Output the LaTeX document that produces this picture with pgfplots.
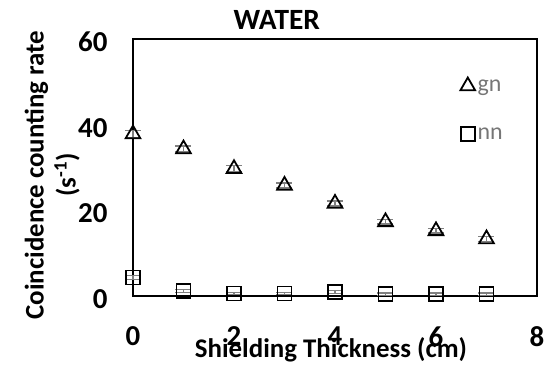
\documentclass[border=0pt]{standalone}
\usepackage{fontspec}
\setmainfont{Carlito}
\usepackage{pgfplots}
\pgfplotsset{compat=1.18}

\definecolor{errgray}{RGB}{128,128,128}
\definecolor{leggray}{RGB}{118,118,118}

\begin{document}
\begin{tikzpicture}
\path[use as bounding box] (-133bp,-69bp) rectangle (421bp,296bp);
\begin{axis}[
  scale only axis,
  width=404bp, height=257bp,
  xmin=0, xmax=8, ymin=0, ymax=60,
  xtick={0,2,4,6,8}, ytick={0,20,40,60},
  major tick length=0pt,
  axis line style={line width=1.5bp},
  /pgf/number format/assume math mode=true,
  ticklabel style={font=\fontsize{29}{31}\selectfont\bfseries},
  yticklabel style={xshift=-22bp, yshift=-3bp},
  xticklabel style={yshift=-27bp},
  title={WATER},
  title style={font=\fontsize{29.5}{31}\selectfont\bfseries,
    at={(axis description cs:0.356,1.012)}, anchor=base},
  xlabel={Shielding Thickness (cm)},
  xlabel style={font=\fontsize{27}{29}\selectfont\bfseries,
    at={(axis description cs:0.49,-0.21)}, anchor=center},
  ylabel={Coincidence counting rate\\(s\textsuperscript{-1})},
  ylabel style={font=\fontsize{27}{32}\selectfont\bfseries, align=center,
    at={(axis description cs:-0.2,0.47)}, anchor=center, rotate=0},
  clip=false,
  legend style={at={(rel axis cs:0.81,0.853)}, anchor=north west,
    draw=none, fill=none, font=\fontsize{24}{26}\selectfont,
    text=leggray, row sep=30bp, inner sep=0pt, nodes={inner sep=2.5bp}},
  legend cell align=left,
  error bars/y dir=both, error bars/y explicit,
  error bars/error bar style={errgray, line width=1.2bp},
  error bars/error mark options={errgray, line width=1.2bp, mark size=8bp, rotate=90},
]
\addplot[only marks, mark=triangle, mark size=8.5bp, line width=1.8bp, black]
  table[x=x, y=y, y error=e] {
x y e
0 37.8 0.8
1 34.3 0.7
2 29.7 0.7
3 25.8 0.6
4 21.6 0.6
5 17.3 0.5
6 15.2 0.5
7 13.3 0.5
};
\addlegendentry{gn}
\addplot[only marks, mark=square, mark size=7bp, line width=1.8bp, black]
  table[x=x, y=y, y error=e] {
x y e
0 4.3 0.4
1 1.2 0.3
2 0.6 0.3
3 0.6 0.3
4 0.9 0.3
5 0.4 0.3
6 0.4 0.3
7 0.4 0.3
};
\addlegendentry{nn}
\end{axis}
\end{tikzpicture}
\end{document}
